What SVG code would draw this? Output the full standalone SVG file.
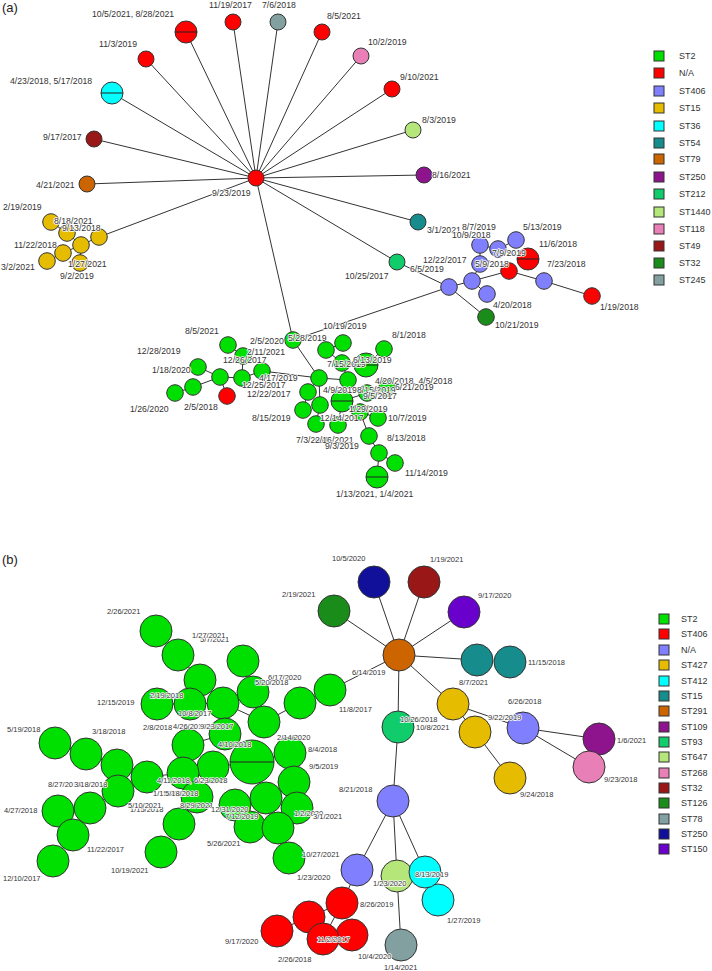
<svg xmlns="http://www.w3.org/2000/svg" width="712" height="971" viewBox="0 0 712 971">
<style>
text{font-family:"Liberation Sans",Arial,sans-serif;fill:#333}
.ta{font-size:8.7px;stroke:#fff;stroke-width:1.6px;paint-order:stroke;stroke-linejoin:round}
.tb{font-size:7.5px;stroke:#fff;stroke-width:1.4px;paint-order:stroke;stroke-linejoin:round}
.tl{font-size:9px}
.tp{font-size:13px;fill:#222}
circle,rect.k{stroke:#333;stroke-width:1}
.sp{stroke:#222;stroke-width:1}
#conn line{stroke:#333;stroke-width:1}
.g2{fill:#00e000}.na{fill:#ff0000}.s406{fill:#8080ff}.s15{fill:#e6bc00}.s36{fill:#00ffff}.s54{fill:#178c8c}
.s79{fill:#cc6400}.s250{fill:#8e148e}.s212{fill:#10cc6a}.s1440{fill:#b4e67a}.s118{fill:#e97fb7}.s49{fill:#991717}
.s32{fill:#198c19}.s245{fill:#82a0a0}.s250b{fill:#10109a}.s150{fill:#6a00cc}
</style>
<text class="tp" x="2" y="12">(a)</text>
<text class="tp" x="2" y="564">(b)</text>
<g id="conn">
<line x1="256" y1="178" x2="186" y2="32"/><line x1="256" y1="178" x2="233" y2="22"/><line x1="256" y1="178" x2="278" y2="22"/>
<line x1="256" y1="178" x2="322" y2="32"/><line x1="256" y1="178" x2="361" y2="56"/><line x1="256" y1="178" x2="392" y2="89"/>
<line x1="256" y1="178" x2="413" y2="130"/><line x1="256" y1="178" x2="424" y2="175"/><line x1="256" y1="178" x2="418" y2="222"/>
<line x1="256" y1="178" x2="397" y2="262"/><line x1="256" y1="178" x2="146" y2="59"/><line x1="256" y1="178" x2="112" y2="93"/>
<line x1="256" y1="178" x2="94" y2="139"/><line x1="256" y1="178" x2="87" y2="184"/><line x1="256" y1="178" x2="99" y2="237"/>
<line x1="256" y1="178" x2="293" y2="340"/>
<line x1="51" y1="222" x2="67" y2="233"/><line x1="67" y1="233" x2="81" y2="245"/><line x1="81" y1="245" x2="99" y2="237"/>
<line x1="81" y1="245" x2="63" y2="253"/><line x1="63" y1="253" x2="47" y2="261"/><line x1="81" y1="245" x2="80" y2="263"/>
<line x1="397" y1="262" x2="449" y2="287"/><line x1="449" y1="287" x2="486" y2="317"/><line x1="449" y1="287" x2="293" y2="340"/>
<line x1="449" y1="287" x2="472" y2="281"/><line x1="472" y1="281" x2="509" y2="271"/><line x1="509" y1="271" x2="544" y2="281"/>
<line x1="544" y1="281" x2="592" y2="296"/><line x1="472" y1="281" x2="480" y2="264"/><line x1="480" y1="264" x2="480" y2="245"/>
<line x1="480" y1="245" x2="498" y2="249"/><line x1="498" y1="249" x2="516" y2="240"/><line x1="498" y1="249" x2="528" y2="259"/>
<line x1="472" y1="281" x2="487" y2="294"/>
<line x1="293" y1="340" x2="319" y2="378"/><line x1="319" y1="378" x2="262" y2="371"/><line x1="262" y1="371" x2="242" y2="378"/>
<line x1="242" y1="378" x2="220" y2="377"/><line x1="242" y1="378" x2="243" y2="356"/><line x1="243" y1="356" x2="228" y2="345"/>
<line x1="220" y1="377" x2="198" y2="367"/><line x1="220" y1="377" x2="193" y2="387"/><line x1="193" y1="387" x2="175" y2="393"/>
<line x1="220" y1="377" x2="227" y2="396"/>
<line x1="319" y1="378" x2="308" y2="392"/><line x1="319" y1="378" x2="348" y2="380"/><line x1="319" y1="378" x2="320" y2="405"/>
<line x1="348" y1="380" x2="342" y2="363"/><line x1="342" y1="363" x2="326" y2="350"/><line x1="326" y1="350" x2="343" y2="343"/>
<line x1="342" y1="363" x2="366" y2="365"/><line x1="366" y1="365" x2="384" y2="349"/><line x1="348" y1="380" x2="342" y2="401"/>
<line x1="342" y1="401" x2="367" y2="393"/><line x1="367" y1="393" x2="387" y2="388"/><line x1="342" y1="401" x2="360" y2="412"/>
<line x1="360" y1="412" x2="378" y2="418"/><line x1="360" y1="412" x2="369" y2="436"/><line x1="369" y1="436" x2="379" y2="453"/>
<line x1="379" y1="453" x2="395" y2="463"/><line x1="379" y1="453" x2="377" y2="477"/><line x1="342" y1="401" x2="338" y2="425"/>
<line x1="320" y1="405" x2="316" y2="424"/><line x1="308" y1="392" x2="303" y2="410"/>
<line x1="399" y1="655" x2="374" y2="582"/><line x1="399" y1="655" x2="424" y2="582"/><line x1="399" y1="655" x2="464" y2="612"/>
<line x1="399" y1="655" x2="334" y2="611"/><line x1="399" y1="655" x2="477" y2="660"/><line x1="399" y1="655" x2="453" y2="704"/>
<line x1="399" y1="655" x2="398" y2="727"/><line x1="399" y1="655" x2="330" y2="690"/>
<line x1="453" y1="704" x2="523" y2="728"/><line x1="453" y1="704" x2="475" y2="732"/><line x1="475" y1="732" x2="510" y2="778"/>
<line x1="523" y1="728" x2="599" y2="739"/><line x1="523" y1="728" x2="589" y2="767"/>
<line x1="398" y1="727" x2="393" y2="801"/><line x1="393" y1="801" x2="357" y2="870"/><line x1="393" y1="801" x2="397" y2="876"/>
<line x1="393" y1="801" x2="425" y2="872"/><line x1="425" y1="872" x2="438" y2="900"/><line x1="397" y1="876" x2="401" y2="945"/>
<line x1="357" y1="870" x2="342" y2="903"/><line x1="342" y1="903" x2="323" y2="939"/><line x1="342" y1="903" x2="309" y2="917"/>
<line x1="309" y1="917" x2="277" y2="931"/><line x1="323" y1="939" x2="352" y2="935"/>
<line x1="330" y1="690" x2="300" y2="703"/><line x1="300" y1="703" x2="264" y2="722"/><line x1="264" y1="722" x2="253" y2="692"/>
<line x1="253" y1="692" x2="243" y2="661"/><line x1="264" y1="722" x2="223" y2="703"/><line x1="223" y1="703" x2="200" y2="680"/>
<line x1="200" y1="680" x2="178" y2="655"/><line x1="178" y1="655" x2="156" y2="631"/><line x1="223" y1="703" x2="190" y2="704"/>
<line x1="190" y1="704" x2="157" y2="704"/><line x1="223" y1="703" x2="225" y2="734"/><line x1="225" y1="734" x2="188" y2="745"/>
<line x1="225" y1="734" x2="252" y2="762"/><line x1="252" y1="762" x2="290" y2="753"/><line x1="290" y1="753" x2="294" y2="782"/>
<line x1="294" y1="782" x2="297" y2="808"/><line x1="252" y1="762" x2="266" y2="798"/><line x1="266" y1="798" x2="278" y2="828"/>
<line x1="278" y1="828" x2="289" y2="858"/><line x1="266" y1="798" x2="250" y2="827"/><line x1="250" y1="827" x2="235" y2="805"/>
<line x1="252" y1="762" x2="213" y2="767"/><line x1="213" y1="767" x2="183" y2="773"/><line x1="183" y1="773" x2="147" y2="777"/>
<line x1="147" y1="777" x2="117" y2="765"/><line x1="117" y1="765" x2="86" y2="754"/><line x1="86" y1="754" x2="55" y2="743"/>
<line x1="117" y1="765" x2="118" y2="791"/><line x1="118" y1="791" x2="90" y2="808"/><line x1="90" y1="808" x2="58" y2="811"/>
<line x1="90" y1="808" x2="73" y2="835"/><line x1="73" y1="835" x2="53" y2="861"/><line x1="183" y1="773" x2="197" y2="797"/>
<line x1="197" y1="797" x2="179" y2="824"/><line x1="179" y1="824" x2="161" y2="852"/>
</g>
<g id="a-hub"><circle class="na" cx="256" cy="178" r="8"/><text class="ta" x="212" y="196">9/23/2019</text></g>
<g id="a-n1"><circle class="na" cx="186" cy="32" r="11"/><line class="sp" x1="175" y1="32" x2="197" y2="32"/><text class="ta" x="92" y="17">10/5/2021, 8/28/2021</text></g>
<g id="a-n2"><circle class="na" cx="233" cy="22" r="8"/><text class="ta" x="209" y="8">11/19/2017</text></g>
<g id="a-n3"><circle class="s245" cx="278" cy="22" r="8"/><text class="ta" x="262" y="8">7/6/2018</text></g>
<g id="a-n4"><circle class="na" cx="322" cy="32" r="8"/><text class="ta" x="327" y="19">8/5/2021</text></g>
<g id="a-n5"><circle class="s118" cx="361" cy="56" r="8"/><text class="ta" x="368" y="45">10/2/2019</text></g>
<g id="a-n6"><circle class="na" cx="392" cy="89" r="8"/><text class="ta" x="400" y="80">9/10/2021</text></g>
<g id="a-n7"><circle class="s1440" cx="413" cy="130" r="8"/><text class="ta" x="422" y="123">8/3/2019</text></g>
<g id="a-n8"><circle class="s250" cx="424" cy="175" r="8"/><text class="ta" x="432" y="178">8/16/2021</text></g>
<g id="a-n9"><circle class="s54" cx="418" cy="222" r="8"/><text class="ta" x="427" y="233">3/1/2021</text></g>
<g id="a-n10"><circle class="s212" cx="397" cy="262" r="8"/><text class="ta" x="345" y="279">10/25/2017</text></g>
<g id="a-n11"><circle class="na" cx="146" cy="59" r="8"/><text class="ta" x="99" y="47">11/3/2019</text></g>
<g id="a-n12"><circle class="s36" cx="112" cy="93" r="11"/><line class="sp" x1="101" y1="93" x2="123" y2="93"/><text class="ta" x="10" y="84">4/23/2018, 5/17/2018</text></g>
<g id="a-n13"><circle class="s49" cx="94" cy="139" r="8"/><text class="ta" x="43" y="140">9/17/2017</text></g>
<g id="a-n14"><circle class="s79" cx="87" cy="184" r="8"/><text class="ta" x="36" y="188">4/21/2021</text></g>
<g id="a-y1"><circle class="s15" cx="51" cy="222" r="8.3"/><text class="ta" x="3" y="210">2/19/2019</text></g>
<g id="a-y2"><circle class="s15" cx="67" cy="233" r="8.3"/></g>
<g id="a-y3"><circle class="s15" cx="99" cy="237" r="8.3"/></g>
<g id="a-y4"><circle class="s15" cx="81" cy="245" r="8.3"/></g>
<g id="a-y5"><circle class="s15" cx="63" cy="253" r="8.3"/><text class="ta" x="14" y="248">11/22/2018</text></g>
<g id="a-y6"><circle class="s15" cx="47" cy="261" r="8.3"/><text class="ta" x="1" y="270">3/2/2021</text></g>
<g id="a-y7"><circle class="s15" cx="80" cy="263" r="8.3"/><text class="ta" x="68" y="267">1/27/2021</text><text class="ta" x="60" y="279">9/2/2019</text></g>
<g id="a-y-labels"><text class="ta" x="54" y="224">8/18/2021</text><text class="ta" x="62" y="231">9/13/2018</text></g>
<g id="a-b1"><circle class="s406" cx="449" cy="287" r="8.3"/><text class="ta" x="410" y="272">6/5/2019</text></g>
<g id="a-b2"><circle class="s406" cx="472" cy="281" r="8.3"/><text class="ta" x="423" y="263">12/22/2017</text></g>
<g id="a-b4"><circle class="s406" cx="480" cy="245" r="8.3"/><text class="ta" x="462" y="230">8/7/2019</text><text class="ta" x="452" y="238">10/9/2018</text></g>
<g id="a-b5"><circle class="s406" cx="498" cy="249" r="8.3"/></g>
<g id="a-b3"><circle class="s406" cx="480" cy="264" r="8.3"/></g>
<g id="a-b6"><circle class="s406" cx="516" cy="240" r="8.3"/><text class="ta" x="523" y="230">5/13/2019</text></g>
<g id="a-b7"><circle class="s406" cx="487" cy="294" r="8.3"/><text class="ta" x="493" y="308">4/20/2018</text></g>
<g id="a-r1"><circle class="na" cx="509" cy="271" r="8.3"/></g>
<g id="a-r2"><circle class="na" cx="528" cy="259" r="11"/><line class="sp" x1="517" y1="259" x2="539" y2="259"/><text class="ta" x="539" y="247">11/6/2018</text></g>
<g id="a-b-labels"><text class="ta" x="492" y="256">7/9/2019</text><text class="ta" x="475" y="267">5/9/2018</text></g>
<g id="a-b8"><circle class="s406" cx="544" cy="281" r="8.3"/><text class="ta" x="547" y="267">7/23/2018</text></g>
<g id="a-r3"><circle class="na" cx="592" cy="296" r="8.3"/><text class="ta" x="600" y="310">1/19/2018</text></g>
<g id="a-gd"><circle class="s32" cx="486" cy="317" r="8.3"/><text class="ta" x="495" y="328">10/21/2019</text></g>
<g id="a-l1"><circle class="g2" cx="262" cy="371" r="8.3"/></g>
<g id="a-l4"><circle class="g2" cx="228" cy="345" r="8.3"/><text class="ta" x="185" y="334">8/5/2021</text></g>
<g id="a-l3"><circle class="g2" cx="243" cy="356" r="8.3"/></g>
<g id="a-l2"><circle class="g2" cx="242" cy="378" r="8.3"/></g>
<g id="a-l5"><circle class="g2" cx="220" cy="377" r="8.3"/></g>
<g id="a-l6"><circle class="na" cx="227" cy="396" r="8.3"/><text class="ta" x="184" y="410">2/5/2018</text></g>
<g id="a-l7"><circle class="g2" cx="198" cy="367" r="8.3"/><text class="ta" x="137" y="354">12/28/2019</text></g>
<g id="a-l8"><circle class="g2" cx="193" cy="387" r="8.3"/><text class="ta" x="152" y="373">1/18/2020</text></g>
<g id="a-l9"><circle class="g2" cx="175" cy="393" r="8.3"/><text class="ta" x="130" y="412">1/26/2020</text></g>
<g id="a-l-labels"><text class="ta" x="247" y="355">2/11/2021</text><text class="ta" x="223" y="363">12/26/2017</text><text class="ta" x="242" y="388">12/25/2017</text><text class="ta" x="247" y="397">12/22/2017</text></g>
<g id="a-g1"><circle class="g2" cx="293" cy="340" r="8.3"/><text class="ta" x="250" y="344">2/5/2020</text><text class="ta" x="288" y="341">5/28/2019</text><text class="ta" x="323" y="329">10/19/2019</text></g>
<g id="a-gh"><circle class="g2" cx="319" cy="378" r="8.3"/><text class="ta" x="259" y="381">4/17/2019</text></g>
<g id="a-g3"><circle class="g2" cx="326" cy="350" r="8.3"/></g>
<g id="a-g4"><circle class="g2" cx="343" cy="343" r="8.3"/></g>
<g id="a-g5"><circle class="g2" cx="342" cy="363" r="8.3"/></g>
<g id="a-g6"><circle class="g2" cx="366" cy="365" r="12"/><line class="sp" x1="354" y1="365" x2="378" y2="365"/></g>
<g id="a-g7"><circle class="g2" cx="384" cy="349" r="8.3"/><text class="ta" x="392" y="338">8/1/2018</text></g>
<g id="a-g5l"><text class="ta" x="327" y="367">7/15/2019</text><text class="ta" x="353" y="363">6/13/2019</text></g>
<g id="a-g8"><circle class="g2" cx="348" cy="380" r="8.3"/></g>
<g id="a-g9"><circle class="g2" cx="308" cy="392" r="8.3"/></g>
<g id="a-g10"><circle class="g2" cx="303" cy="410" r="8.3"/><text class="ta" x="252" y="421">8/15/2019</text></g>
<g id="a-g11"><circle class="g2" cx="320" cy="405" r="8.3"/></g>
<g id="a-g12"><circle class="g2" cx="342" cy="401" r="11"/><line class="sp" x1="331" y1="401" x2="353" y2="401"/></g>
<g id="a-g13"><circle class="g2" cx="367" cy="393" r="8.3"/></g>
<g id="a-g14"><circle class="g2" cx="387" cy="388" r="8.3"/></g>
<g id="a-g15"><circle class="g2" cx="316" cy="424" r="8.3"/></g>
<g id="a-g16"><circle class="g2" cx="338" cy="425" r="8.3"/></g>
<g id="a-g17"><circle class="g2" cx="360" cy="412" r="8.3"/></g>
<g id="a-g18"><circle class="g2" cx="378" cy="418" r="8.3"/><text class="ta" x="388" y="421">10/7/2019</text></g>
<g id="a-g19"><circle class="g2" cx="369" cy="436" r="8.3"/><text class="ta" x="387" y="441">8/13/2018</text></g>
<g id="a-g20"><circle class="g2" cx="379" cy="453" r="8.3"/></g>
<g id="a-g21"><circle class="g2" cx="395" cy="463" r="8.3"/><text class="ta" x="405" y="476">11/14/2019</text></g>
<g id="a-g22"><circle class="g2" cx="377" cy="477" r="11"/><line class="sp" x1="366" y1="477" x2="388" y2="477"/><text class="ta" x="336" y="497">1/13/2021, 1/4/2021</text></g>
<g id="a-g-labels">
<text class="ta" x="375" y="384">4/20/2018, 4/5/2018</text><text class="ta" x="395" y="390">6/21/2019</text>
<text class="ta" x="323" y="393">4/9/2019</text><text class="ta" x="357" y="393">8/15/2019</text><text class="ta" x="363" y="399">9/5/2017</text>
<text class="ta" x="349" y="412">1/29/2019</text><text class="ta" x="320" y="421">12/14/2017</text>
<text class="ta" x="296" y="443">7/3/2019</text><text class="ta" x="315" y="443">2/16/2021</text><text class="ta" x="325" y="449">9/3/2019</text>
</g>
<g id="legend-a">
<rect class="k g2" x="654" y="51" width="10" height="10"/><text class="tl" x="679" y="59">ST2</text>
<rect class="k na" x="654" y="68" width="10" height="10"/><text class="tl" x="679" y="76">N/A</text>
<rect class="k s406" x="654" y="86" width="10" height="10"/><text class="tl" x="679" y="94">ST406</text>
<rect class="k s15" x="654" y="103" width="10" height="10"/><text class="tl" x="679" y="111">ST15</text>
<rect class="k s36" x="654" y="121" width="10" height="10"/><text class="tl" x="679" y="129">ST36</text>
<rect class="k s54" x="654" y="138" width="10" height="10"/><text class="tl" x="679" y="146">ST54</text>
<rect class="k s79" x="654" y="154" width="10" height="10"/><text class="tl" x="679" y="162">ST79</text>
<rect class="k s250" x="654" y="172" width="10" height="10"/><text class="tl" x="679" y="180">ST250</text>
<rect class="k s212" x="654" y="189" width="10" height="10"/><text class="tl" x="679" y="197">ST212</text>
<rect class="k s1440" x="654" y="207" width="10" height="10"/><text class="tl" x="679" y="215">ST1440</text>
<rect class="k s118" x="654" y="224" width="10" height="10"/><text class="tl" x="679" y="232">ST118</text>
<rect class="k s49" x="654" y="241" width="10" height="10"/><text class="tl" x="679" y="249">ST49</text>
<rect class="k s32" x="654" y="258" width="10" height="10"/><text class="tl" x="679" y="266">ST32</text>
<rect class="k s245" x="654" y="275" width="10" height="10"/><text class="tl" x="679" y="283">ST245</text>
</g>
<g id="b-hub"><circle class="s79" cx="399" cy="655" r="16"/><text class="tb" x="352" y="675">6/14/2019</text></g>
<g id="b-s1"><circle class="s250b" cx="374" cy="582" r="16"/><text class="tb" x="332" y="561">10/5/2020</text></g>
<g id="b-s2"><circle class="s49" cx="424" cy="582" r="16"/><text class="tb" x="430" y="562">1/19/2021</text></g>
<g id="b-s3"><circle class="s150" cx="464" cy="612" r="16"/><text class="tb" x="478" y="598">9/17/2020</text></g>
<g id="b-s4"><circle class="s32" cx="334" cy="611" r="16"/><text class="tb" x="282" y="597">2/19/2021</text></g>
<g id="b-t1"><circle class="s54" cx="477" cy="660" r="16"/><text class="tb" x="459" y="685">8/7/2021</text></g>
<g id="b-t2"><circle class="s54" cx="510" cy="662" r="16"/><text class="tb" x="528" y="665">11/15/2018</text></g>
<g id="b-y1"><circle class="s15" cx="453" cy="704" r="16"/></g>
<g id="b-y2"><circle class="s15" cx="475" cy="732" r="16"/></g>
<g id="b-y3"><circle class="s15" cx="510" cy="778" r="16"/><text class="tb" x="520" y="797">9/24/2018</text></g>
<g id="b-na1"><circle class="s406" cx="523" cy="728" r="16"/><text class="tb" x="508" y="704">6/26/2018</text><text class="tb" x="488" y="720">9/22/2019</text></g>
<g id="b-p1"><circle class="s250" cx="599" cy="739" r="16"/><text class="tb" x="617" y="743">1/6/2021</text></g>
<g id="b-pk"><circle class="s118" cx="589" cy="767" r="16"/><text class="tb" x="604" y="782">9/23/2018</text></g>
<g id="b-93"><circle class="s212" cx="398" cy="727" r="16"/><text class="tb" x="400" y="722">10/26/2018</text><text class="tb" x="416" y="730">10/8/2021</text></g>
<g id="b-na2"><circle class="s406" cx="393" cy="801" r="16"/><text class="tb" x="339" y="792">8/21/2018</text></g>
<g id="b-na3"><circle class="s406" cx="357" cy="870" r="16"/></g>
<g id="b-lg"><circle class="s1440" cx="397" cy="876" r="16"/></g>
<g id="b-c2"><circle class="s36" cx="438" cy="900" r="16"/><text class="tb" x="447" y="923">1/27/2019</text></g>
<g id="b-c1"><circle class="s36" cx="425" cy="872" r="16"/><text class="tb" x="415" y="877">8/13/2019</text></g>
<g id="b-lgl"><text class="tb" x="373" y="886">1/23/2020</text></g>
<g id="b-gr"><circle class="s245" cx="401" cy="945" r="16"/><text class="tb" x="358" y="959">10/4/2020</text><text class="tb" x="384" y="970">1/14/2021</text></g>
<g id="b-r1"><circle class="na" cx="342" cy="903" r="16"/><text class="tb" x="360" y="907">8/26/2019</text></g>
<g id="b-r2"><circle class="na" cx="309" cy="917" r="16"/></g>
<g id="b-r3"><circle class="na" cx="277" cy="931" r="16"/><text class="tb" x="225" y="944">9/17/2020</text></g>
<g id="b-r5"><circle class="na" cx="352" cy="935" r="16"/></g>
<g id="b-r4"><circle class="na" cx="323" cy="939" r="16"/><text class="tb" x="317" y="942">11/2/2017</text><text class="tb" x="278" y="962">2/26/2018</text></g>
<g id="b-g1"><circle class="g2" cx="156" cy="631" r="16"/><text class="tb" x="107" y="614">2/26/2021</text></g>
<g id="b-g2"><circle class="g2" cx="178" cy="655" r="16"/></g>
<g id="b-g3"><circle class="g2" cx="200" cy="680" r="16"/></g>
<g id="b-g4"><circle class="g2" cx="243" cy="661" r="16"/></g>
<g id="b-g9"><circle class="g2" cx="157" cy="704" r="16"/><text class="tb" x="97" y="705">12/15/2019</text></g>
<g id="b-g10"><circle class="g2" cx="190" cy="704" r="16"/></g>
<g id="b-g11"><circle class="g2" cx="223" cy="703" r="16"/></g>
<g id="b-g5"><circle class="g2" cx="253" cy="692" r="16"/></g>
<g id="b-g6"><circle class="g2" cx="264" cy="722" r="16"/></g>
<g id="b-g7"><circle class="g2" cx="300" cy="703" r="16"/></g>
<g id="b-g8"><circle class="g2" cx="330" cy="690" r="16"/><text class="tb" x="339" y="712">11/8/2017</text></g>
<g id="b-g13"><circle class="g2" cx="225" cy="734" r="16"/></g>
<g id="b-g12"><circle class="g2" cx="188" cy="745" r="16"/></g>
<g id="b-g15"><circle class="g2" cx="290" cy="753" r="16"/></g>
<g id="b-g16"><circle class="g2" cx="294" cy="782" r="16"/><text class="tb" x="309" y="769">9/5/2019</text></g>
<g id="b-g18"><circle class="g2" cx="266" cy="798" r="16"/></g>
<g id="b-g17"><circle class="g2" cx="297" cy="808" r="16"/></g>
<g id="b-g36"><circle class="g2" cx="235" cy="805" r="16"/></g>
<g id="b-g20"><circle class="g2" cx="250" cy="827" r="16"/></g>
<g id="b-g19"><circle class="g2" cx="278" cy="828" r="16"/></g>
<g id="b-g21"><circle class="g2" cx="289" cy="858" r="16"/><text class="tb" x="302" y="857">10/27/2021</text><text class="tb" x="297" y="880">1/23/2020</text></g>
<g id="b-g22"><circle class="g2" cx="213" cy="767" r="16"/></g>
<g id="b-g14"><circle class="g2" cx="252" cy="762" r="22"/><line class="sp" x1="230" y1="762" x2="274" y2="762"/></g>
<g id="b-g24"><circle class="g2" cx="147" cy="777" r="16"/></g>
<g id="b-g23"><circle class="g2" cx="183" cy="773" r="16"/></g>
<g id="b-g25"><circle class="g2" cx="55" cy="743" r="16"/><text class="tb" x="7" y="732">5/19/2018</text></g>
<g id="b-g26"><circle class="g2" cx="86" cy="754" r="16"/><text class="tb" x="92" y="734">3/18/2018</text></g>
<g id="b-g27"><circle class="g2" cx="117" cy="765" r="16"/></g>
<g id="b-g28"><circle class="g2" cx="118" cy="791" r="16"/></g>
<g id="b-g29"><circle class="g2" cx="90" cy="808" r="16"/></g>
<g id="b-g30"><circle class="g2" cx="58" cy="811" r="16"/><text class="tb" x="4" y="813">4/27/2018</text></g>
<g id="b-g31"><circle class="g2" cx="73" cy="835" r="16"/><text class="tb" x="87" y="852">11/22/2017</text></g>
<g id="b-g32"><circle class="g2" cx="53" cy="861" r="16"/><text class="tb" x="3" y="881">12/10/2017</text></g>
<g id="b-g33"><circle class="g2" cx="197" cy="797" r="16"/></g>
<g id="b-g34"><circle class="g2" cx="179" cy="824" r="16"/></g>
<g id="b-g35"><circle class="g2" cx="161" cy="852" r="16"/><text class="tb" x="111" y="873">10/19/2021</text></g>
<g id="b-g-labels">
<text class="tb" x="200" y="642">5/7/2021</text><text class="tb" x="192" y="638">1/27/2021</text>
<text class="tb" x="268" y="680">6/17/2020</text><text class="tb" x="255" y="685">5/20/2018</text>
<text class="tb" x="150" y="698">2/19/2018</text><text class="tb" x="178" y="716">10/8/2017</text>
<text class="tb" x="143" y="730">2/8/2018</text><text class="tb" x="173" y="729">4/26/2019</text><text class="tb" x="200" y="729">9/23/2017</text>
<text class="tb" x="218" y="747">4/10/2018</text><text class="tb" x="277" y="740">2/14/2020</text><text class="tb" x="308" y="752">8/4/2018</text>
<text class="tb" x="157" y="783">4/11/2018, 6/23/2018</text><text class="tb" x="48" y="787">8/27/2018</text><text class="tb" x="74" y="787">3/18/2018</text>
<text class="tb" x="153" y="796">1/15/2018</text><text class="tb" x="165" y="796">5/18/2018</text>
<text class="tb" x="130" y="812">1/15/2018</text><text class="tb" x="128" y="808">5/10/2021</text><text class="tb" x="180" y="808">8/29/2021</text>
<text class="tb" x="211" y="812">12/31/2020</text><text class="tb" x="225" y="819">7/12/2019</text>
<text class="tb" x="294" y="816">1/2/2020</text><text class="tb" x="313" y="819">3/1/2021</text>
<text class="tb" x="207" y="846">5/26/2021</text>
</g>
<g id="legend-b">
<rect class="k g2" x="659" y="614" width="10" height="10"/><text class="tl" x="681" y="622">ST2</text>
<rect class="k na" x="659" y="629" width="10" height="10"/><text class="tl" x="681" y="637">ST406</text>
<rect class="k s406" x="659" y="645" width="10" height="10"/><text class="tl" x="681" y="653">N/A</text>
<rect class="k s15" x="659" y="660" width="10" height="10"/><text class="tl" x="681" y="668">ST427</text>
<rect class="k s36" x="659" y="676" width="10" height="10"/><text class="tl" x="681" y="684">ST412</text>
<rect class="k s54" x="659" y="691" width="10" height="10"/><text class="tl" x="681" y="699">ST15</text>
<rect class="k s79" x="659" y="706" width="10" height="10"/><text class="tl" x="681" y="714">ST291</text>
<rect class="k s250" x="659" y="722" width="10" height="10"/><text class="tl" x="681" y="730">ST109</text>
<rect class="k s212" x="659" y="737" width="10" height="10"/><text class="tl" x="681" y="745">ST93</text>
<rect class="k s1440" x="659" y="752" width="10" height="10"/><text class="tl" x="681" y="760">ST647</text>
<rect class="k s118" x="659" y="768" width="10" height="10"/><text class="tl" x="681" y="776">ST268</text>
<rect class="k s49" x="659" y="783" width="10" height="10"/><text class="tl" x="681" y="791">ST32</text>
<rect class="k s32" x="659" y="798" width="10" height="10"/><text class="tl" x="681" y="806">ST126</text>
<rect class="k s245" x="659" y="814" width="10" height="10"/><text class="tl" x="681" y="822">ST78</text>
<rect class="k s250b" x="659" y="829" width="10" height="10"/><text class="tl" x="681" y="837">ST250</text>
<rect class="k s150" x="659" y="844" width="10" height="10"/><text class="tl" x="681" y="852">ST150</text>
</g>
</svg>
